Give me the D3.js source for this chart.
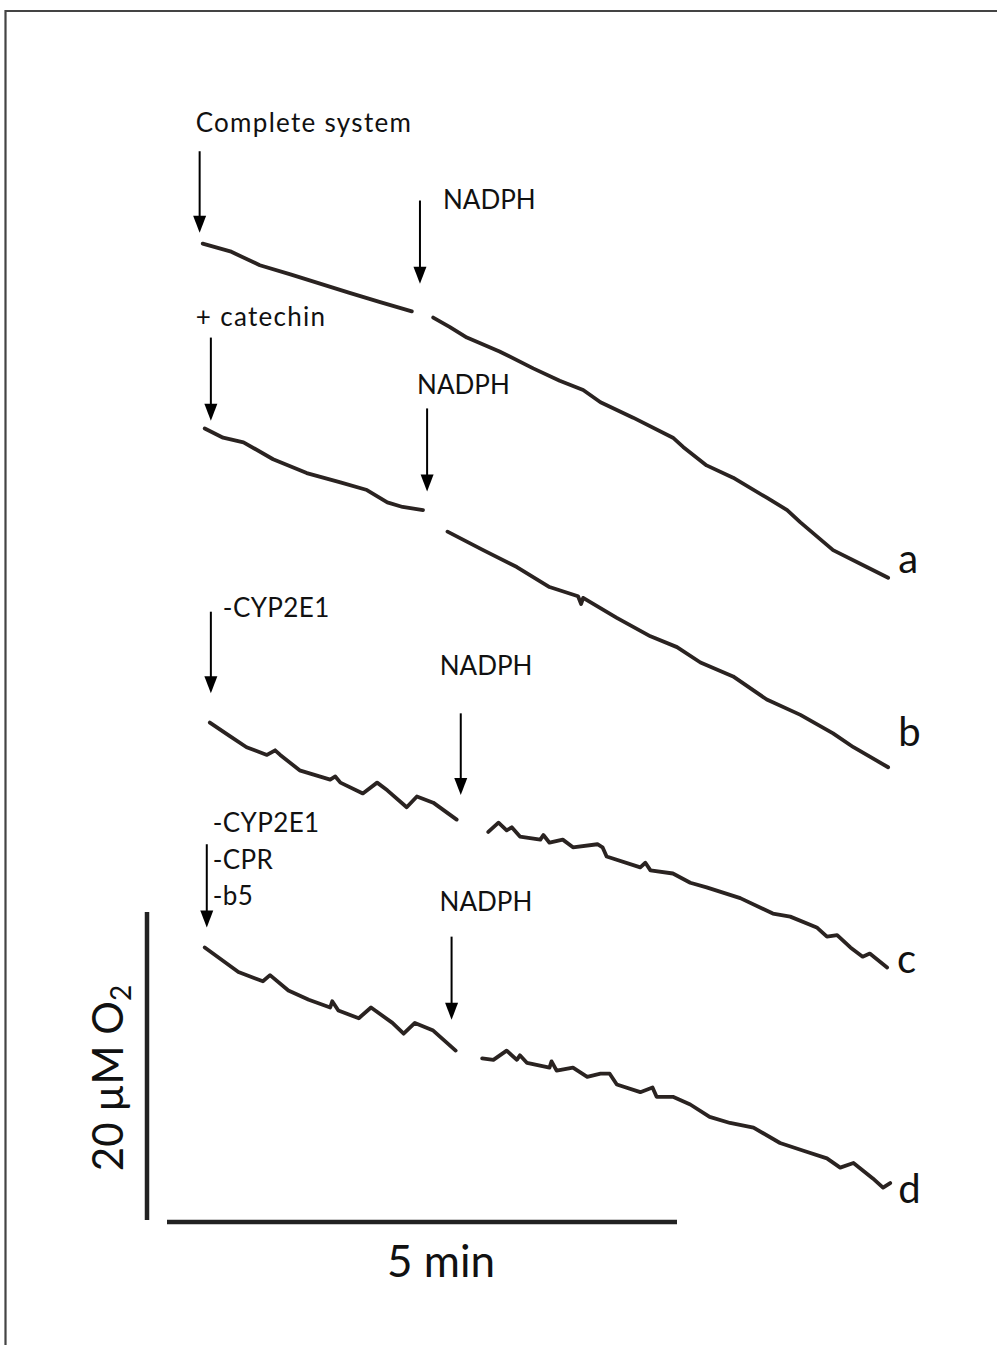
<!DOCTYPE html>
<html><head><meta charset="utf-8">
<script src="https://cdn.jsdelivr.net/npm/d3@7"></script>
<style>html,body{margin:0;padding:0;background:#fff;} svg{display:block;}</style>
</head><body><div id="chart"></div>
<script>
// ---- DATA: time in minutes, O2 in µM (traces are stacked vertically) ----
const traceA_pre = [[0.35,63.4],[0.62,62.9],[0.91,62.0],[1.21,61.4],[1.50,60.8],[1.79,60.2],[2.09,59.6],[2.40,59.0]];
const traceA_post = [[2.61,58.6],[2.77,58.0],[2.94,57.3],[3.26,56.4],[3.59,55.3],[3.85,54.5],[4.08,53.9],[4.25,53.1],[4.57,52.1],[4.96,50.8],[5.06,50.2],[5.29,49.0],[5.55,48.2],[5.88,46.9],[6.08,46.1],[6.21,45.3],[6.53,43.5],[6.86,42.4],[7.07,41.7]];
const traceB_pre = [[0.37,51.4],[0.55,50.8],[0.75,50.5],[1.04,49.4],[1.37,48.5],[1.70,47.9],[1.96,47.4],[2.16,46.6],[2.31,46.3],[2.51,46.1]];
const traceB_post = [[2.75,44.7],[3.10,43.5],[3.43,42.4],[3.75,41.1],[4.03,40.5],[4.06,40.0],[4.08,40.4],[4.41,39.1],[4.74,37.9],[5.00,37.2],[5.23,36.2],[5.55,35.3],[5.88,33.8],[6.21,32.8],[6.53,31.6],[6.73,30.7],[7.07,29.4]];
const traceC_pre = [[0.42,32.3],[0.62,31.4],[0.78,30.7],[0.98,30.2],[1.06,30.5],[1.11,30.2],[1.30,29.2],[1.60,28.6],[1.65,28.8],[1.70,28.4],[1.92,27.7],[2.06,28.4],[2.16,27.9],[2.35,26.8],[2.45,27.5],[2.61,27.1],[2.84,26.0]];
const traceC_post = [[3.15,25.2],[3.25,25.8],[3.33,25.3],[3.38,25.5],[3.46,24.9],[3.66,24.7],[3.69,25.0],[3.75,24.5],[3.88,24.7],[3.98,24.2],[4.22,24.4],[4.27,24.2],[4.31,23.6],[4.64,22.9],[4.69,23.2],[4.74,22.7],[4.96,22.5],[5.13,21.9],[5.29,21.6],[5.62,20.9],[5.94,19.9],[6.11,19.7],[6.37,19.0],[6.47,18.4],[6.57,18.5],[6.70,17.7],[6.82,17.1],[6.89,17.3],[7.06,16.4]];
const traceD_pre = [[0.37,17.7],[0.70,16.1],[0.94,15.5],[1.01,15.9],[1.19,14.9],[1.39,14.3],[1.60,13.8],[1.62,14.2],[1.68,13.6],[1.88,13.1],[2.00,13.8],[2.21,12.8],[2.32,12.1],[2.43,12.8],[2.61,12.3],[2.83,11.0]];
const traceD_post = [[3.09,10.5],[3.20,10.4],[3.33,11.0],[3.43,10.4],[3.46,10.7],[3.53,10.2],[3.75,9.9],[3.77,10.3],[3.82,9.7],[3.98,9.9],[4.12,9.3],[4.25,9.5],[4.34,9.5],[4.41,8.8],[4.64,8.3],[4.76,8.6],[4.80,8.0],[4.96,8.0],[5.13,7.5],[5.32,6.7],[5.52,6.3],[5.75,6.0],[6.01,5.0],[6.24,4.5],[6.47,4.0],[6.60,3.4],[6.73,3.7],[6.92,2.7],[7.02,2.1],[7.09,2.4]];

const traceNames = ["a","b","c","d"];
const additionLabels = [["Complete system"],["+ catechin"],["-CYP2E1"],["-CYP2E1","-CPR","-b5"]];
const additionTimes = [0.32,0.43,0.43,0.39];
const additionTop = [69.4,57.3,39.5,24.4];
const additionBottom = [64.1,51.9,34.2,19.0];
const nadphLabel = "NADPH";
const nadphTimes = [2.48,2.55,2.88,2.79];
const nadphTop = [66.2,52.7,32.9,18.4];
const nadphBottom = [60.8,47.3,27.6,13.0];
const timeBar = [0,5];
const timeBarLabel = "5 min";
const o2Bar = [0,20];
const o2BarLabel = ["20 µM O","2"];

// ---- LAYOUT ----
const W = 997, H = 1345;
const font = "Lato, 'Open Sans', sans-serif";
const traceColor = "#2a2321";
const annSize = 26;
const traces = [[traceA_pre,traceA_post],[traceB_pre,traceB_post],[traceC_pre,traceC_post],[traceD_pre,traceD_post]];
const traceLabelOffset = [[10,-5],[10,-21],[10,6],[8,20]];
const addLabelOffset = [[[-4,-19]],[[-15,-12]],[[12,5]],[[6,-12],[6,25],[6,61]]];
const addLabelSpacing = [1.3,1.3,0.4,0.4];
const nadphLabelOffset = [[23,8],[-10,-14],[-21,-38],[-12,-26]];

const svg = d3.select("#chart").append("svg").attr("width",W).attr("height",H);
svg.append("rect").attr("width",W).attr("height",H).attr("fill","#fff");

// frame (top and left edges)
svg.append("path").attr("d",`M5.5,${H} V11 H${W}`).attr("fill","none").attr("stroke","#444").attr("stroke-width",2.2);

const x = d3.scaleLinear().domain([0,5]).range([167,677]);
const y = d3.scaleLinear().domain([0,20]).range([1220,912]);

const line = d3.line().x(d=>x(d[0])).y(d=>y(d[1])).curve(d3.curveLinear);

traces.forEach((segs,i)=>{
  segs.forEach(seg=>{
    svg.append("path").datum(seg).attr("d",line)
      .attr("fill","none").attr("stroke",traceColor).attr("stroke-width",3.8)
      .attr("stroke-linejoin","round").attr("stroke-linecap","round");
  });
  const last = segs[1][segs[1].length-1];
  svg.append("text").attr("x",x(last[0])+traceLabelOffset[i][0]).attr("y",y(last[1])+traceLabelOffset[i][1])
    .attr("font-family",font).attr("font-size",40).attr("fill","#111").text(traceNames[i]);
});

function arrow(t, top, bottom){
  const ax = x(t), y1 = y(top), y2 = y(bottom);
  svg.append("line").attr("x1",ax).attr("x2",ax).attr("y1",y1).attr("y2",y2-14)
    .attr("stroke","#000").attr("stroke-width",2);
  svg.append("path").attr("d",`M${ax-6.5},${y2-17} L${ax+6.5},${y2-17} L${ax},${y2} Z`).attr("fill","#000");
}

additionTimes.forEach((t,i)=>{
  arrow(t, additionTop[i], additionBottom[i]);
  additionLabels[i].forEach((lab,j)=>{
    svg.append("text").attr("x",x(t)+addLabelOffset[i][j][0]).attr("y",y(additionTop[i])+addLabelOffset[i][j][1])
      .attr("font-family",font).attr("font-size",annSize).attr("letter-spacing",addLabelSpacing[i])
      .attr("fill","#111").text(lab);
  });
});
nadphTimes.forEach((t,i)=>{
  arrow(t, nadphTop[i], nadphBottom[i]);
  svg.append("text").attr("x",x(t)+nadphLabelOffset[i][0]).attr("y",y(nadphTop[i])+nadphLabelOffset[i][1])
    .attr("font-family",font).attr("font-size",annSize).attr("fill","#111").text(nadphLabel);
});

// scale bars
svg.append("line").attr("x1",x(timeBar[0])).attr("x2",x(timeBar[1])).attr("y1",y(0)+2).attr("y2",y(0)+2)
  .attr("stroke","#222").attr("stroke-width",4.5);
svg.append("text").attr("x",(x(timeBar[0])+x(timeBar[1]))/2+19).attr("y",y(0)+57)
  .attr("text-anchor","middle").attr("font-family",font).attr("font-size",44).attr("fill","#111").text(timeBarLabel);
svg.append("line").attr("x1",x(0)-20).attr("x2",x(0)-20).attr("y1",y(o2Bar[0])).attr("y2",y(o2Bar[1]))
  .attr("stroke","#222").attr("stroke-width",4.5);
const o2t = svg.append("text").attr("transform",`translate(${x(0)-44},${(y(0)+y(20))/2+12}) rotate(-90)`)
  .attr("text-anchor","middle").attr("font-family",font).attr("font-size",42).attr("fill","#111");
o2t.append("tspan").text(o2BarLabel[0]);
o2t.append("tspan").attr("font-size",28).attr("dy",8).text(o2BarLabel[1]);
</script></body></html>
